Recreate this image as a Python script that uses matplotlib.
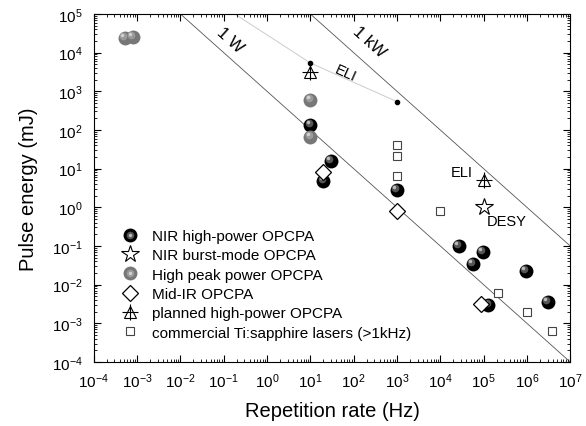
import matplotlib
matplotlib.use("Agg")
import matplotlib.pyplot as plt
from matplotlib.legend_handler import HandlerTuple
import numpy as np

plt.rcParams['font.family'] = ['Liberation Sans', 'DejaVu Sans']
plt.rcParams['mathtext.fontset'] = 'custom'
plt.rcParams['mathtext.rm'] = 'Liberation Sans'

# data (rep. rate in Hz, energy in mJ)
nir_hp_x = [10, 30, 20, 1000, 2.7e4, 9.5e4, 5.6e4, 9.6e5, 1.3e5, 3.1e6]
nir_hp_y = [135, 16, 4.9, 2.8, 0.1, 0.07, 0.035, 0.023, 0.003, 0.0036]
burst_x = [1e5]
burst_y = [1.0]
hpp_x = [5.2e-4, 8e-4, 10, 10]
hpp_y = [24000, 25000, 600, 66]
midir_x = [19.5, 1000, 8.7e4]
midir_y = [8.3, 0.8, 0.0032]
planned_x = [10, 1e5]
planned_y = [3100, 5.0]
tisa_x = [1000, 1000, 1000, 1e4, 2.2e5, 1e6, 3.8e6]
tisa_y = [42, 21, 6.5, 0.8, 0.006, 0.002, 0.00065]
eli_x = [0.18, 10, 1000]
eli_y = [1e5, 5400, 540]

power_w = [1, 1000]  # constant power lines, W
freq = np.array([1e-4, 1e7])

fig = plt.figure(figsize=(5.86, 4.27), dpi=100)
ax = fig.add_axes([0.160, 0.150, 0.813, 0.815])

for p in power_w:
    ax.plot(freq, p * 1000 / freq, color='#555555', lw=0.6, zorder=1)
ax.plot(eli_x, eli_y, color='#cccccc', lw=0.7, zorder=1)
ax.plot(eli_x[1:], eli_y[1:], 'o', color='black', ms=3, zorder=3)


def shift(dx, dy):
    return ax.transData + matplotlib.transforms.ScaledTranslation(dx / 72, dy / 72, fig.dpi_scale_trans)


def sphere(x, y, base, mid, hi, ms=10):
    h1, = ax.plot(x, y, 'o', color=base, ms=ms, mew=0, zorder=4)
    h2, = ax.plot(x, y, 'o', color=mid, ms=ms * 0.55, mew=0, zorder=4, transform=shift(-1.3, 1.3))
    h3, = ax.plot(x, y, 'o', color=hi, ms=ms * 0.25, mew=0, zorder=4, transform=shift(-2, 2))
    return (h1, h2, h3)


h_nir = sphere(nir_hp_x, nir_hp_y, '#000000', '#555555', '#bbbbbb')
h_burst, = ax.plot(burst_x, burst_y, '*', mfc='white', mec='black', mew=0.8, ms=13, zorder=5)
h_hpp = sphere(hpp_x, hpp_y, '#777777', '#9a9a9a', '#d0d0d0')
h_mid, = ax.plot(midir_x, midir_y, 'D', mfc='white', mec='black', mew=0.9, ms=8, zorder=5)
t1, = ax.plot(planned_x, planned_y, '^', mfc='none', mec='black', mew=0.8, ms=9, zorder=5)
t2, = ax.plot(planned_x, planned_y, '+', color='black', mew=0.8, ms=12, zorder=5)
h_tisa, = ax.plot(tisa_x, tisa_y, 's', mfc='white', mec='#444444', mew=0.8, ms=6, zorder=5)

ax.text(0.14, 22000, '1 W', rotation=-42, fontsize=12, ha='center', va='center')
ax.text(224, 19000, '1 kW', rotation=-42, fontsize=12, ha='center', va='center')
ax.text(63, 3000, 'ELI', rotation=-24, fontsize=10.5, ha='center', va='center')
ax.text(3.2e4, 8.3, 'ELI', fontsize=10.5, ha='center', va='center')
ax.text(3.5e5, 0.43, 'DESY', fontsize=10.5, ha='center', va='center')

ax.set_xscale('log')
ax.set_yscale('log')
ax.set_xlim(1e-4, 1e7)
ax.set_ylim(1e-4, 1e5)
ax.set_xticks([10.0 ** k for k in range(-4, 8)])
ax.set_yticks([10.0 ** k for k in range(-4, 6)])
ax.xaxis.set_minor_locator(matplotlib.ticker.LogLocator(base=10, subs=np.arange(2, 10), numticks=30))
ax.yaxis.set_minor_locator(matplotlib.ticker.LogLocator(base=10, subs=np.arange(2, 10), numticks=30))
ax.xaxis.set_minor_formatter(matplotlib.ticker.NullFormatter())
ax.yaxis.set_minor_formatter(matplotlib.ticker.NullFormatter())
ax.tick_params(which='both', direction='in', top=True, right=True, labelsize=11)
ax.tick_params(which='major', length=5, width=0.8)
ax.tick_params(which='minor', length=2.5, width=0.6)
ax.tick_params(axis='x', which='major', pad=7)
ax.tick_params(axis='y', which='major', pad=8)
ax.set_xlabel('Repetition rate (Hz)', fontsize=14.5, labelpad=8)
ax.set_ylabel('Pulse energy (mJ)', fontsize=14.5, labelpad=10)

ax.legend([h_nir, h_burst, h_hpp, h_mid, (t1, t2), h_tisa],
          ['NIR high-power OPCPA', 'NIR burst-mode OPCPA', 'High peak power OPCPA',
           'Mid-IR OPCPA', 'planned high-power OPCPA', 'commercial Ti:sapphire lasers (>1kHz)'],
          handler_map={tuple: HandlerTuple(ndivide=1, pad=0)},
          loc='upper left', bbox_to_anchor=(0.045, 0.40), frameon=False,
          fontsize=11, labelspacing=0.35, handlelength=1.2, handletextpad=0.8,
          borderaxespad=0)

fig.savefig('out.png', dpi=100)
